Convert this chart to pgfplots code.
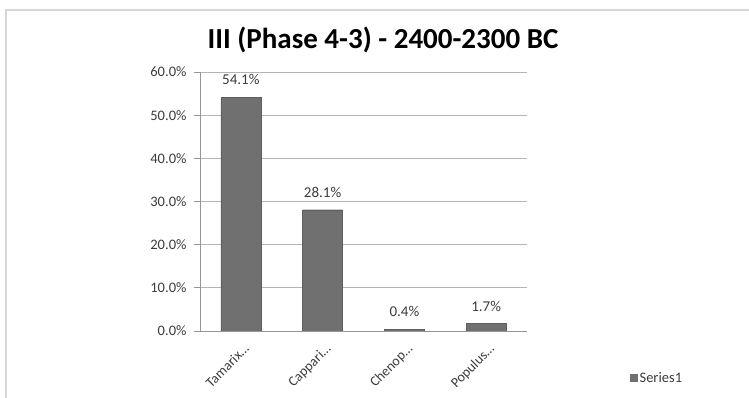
\documentclass[border=0pt]{standalone}
\usepackage{fontspec}
\setmainfont{Carlito}
\usepackage{pgfplots}
\pgfplotsset{compat=1.18}

\definecolor{barfill}{RGB}{112,112,112}
\definecolor{gridgray}{RGB}{180,180,180}
\definecolor{axisgray}{RGB}{150,150,150}
\definecolor{labelgray}{RGB}{60,60,60}
\definecolor{framegray}{RGB}{215,215,215}

\begin{document}
\begin{tikzpicture}
  \useasboundingbox (0pt,0pt) rectangle (749pt,398pt);
  % chart frame
  \draw[framegray, line width=2pt] (6pt,0pt) -- (6pt,388pt) -- (760pt,388pt);
  % chart title
  \node[anchor=base, font=\fontsize{29}{33}\selectfont\bfseries, text=black]
    at (383pt,349pt) {III (Phase 4-3) - 2400-2300 BC};

  \begin{axis}[
    at={(200pt,67pt)}, anchor=south west,
    scale only axis, width=327pt, height=259pt,
    xmin=-0.5, xmax=3.5, ymin=0, ymax=60,
    ytick={0,10,...,60},
    yticklabel={\pgfmathprintnumber[fixed,fixed zerofill,precision=1]{\tick}\%},
    /pgf/number format/assume math mode=true,
    ymajorgrids, grid style={gridgray, line width=0.8pt},
    axis x line*=bottom, axis y line*=left,
    axis line style={axisgray, line width=0.8pt},
    tick style={axisgray, line width=0.8pt},
    major tick length=6pt, tick align=outside,
    xtick={0,1,2,3},
    xticklabels={Tamarix…,Cappari…,Chenop…,Populus…},
    major x tick style={draw=none},
    extra x ticks={-0.5,0.5,1.5,2.5,3.5},
    extra x tick labels={},
    extra x tick style={grid=none, major tick length=5pt, tick style={axisgray}},
    xticklabel style={xshift=2pt, yshift=-1pt, rotate=45, anchor=north east,
      font=\fontsize{14}{16}\selectfont, text=labelgray},
    yticklabel style={font=\fontsize{14.5}{16}\selectfont, text=labelgray, xshift=-4pt},
    ybar, bar width=40pt,
    nodes near coords={\pgfmathprintnumber[fixed,fixed zerofill,precision=1]{\pgfplotspointmeta}\%},
    nodes near coords style={font=\fontsize{15}{17}\selectfont, text=labelgray, anchor=south, yshift=9pt},
    legend style={at={(1.315,-0.181)}, anchor=west, draw=none, fill=none,
      font=\fontsize{14.5}{16}\selectfont, text=labelgray, inner sep=0pt},
    legend image code/.code={\fill[barfill] (0pt,-3.5pt) rectangle (7pt,3.5pt);},
  ]
    \addplot[fill=barfill, draw=barfill!85!black] coordinates {(0,54.1) (1,28.1) (2,0.4) (3,1.7)};
    \addlegendentry{Series1}
  \end{axis}
\end{tikzpicture}
\end{document}
